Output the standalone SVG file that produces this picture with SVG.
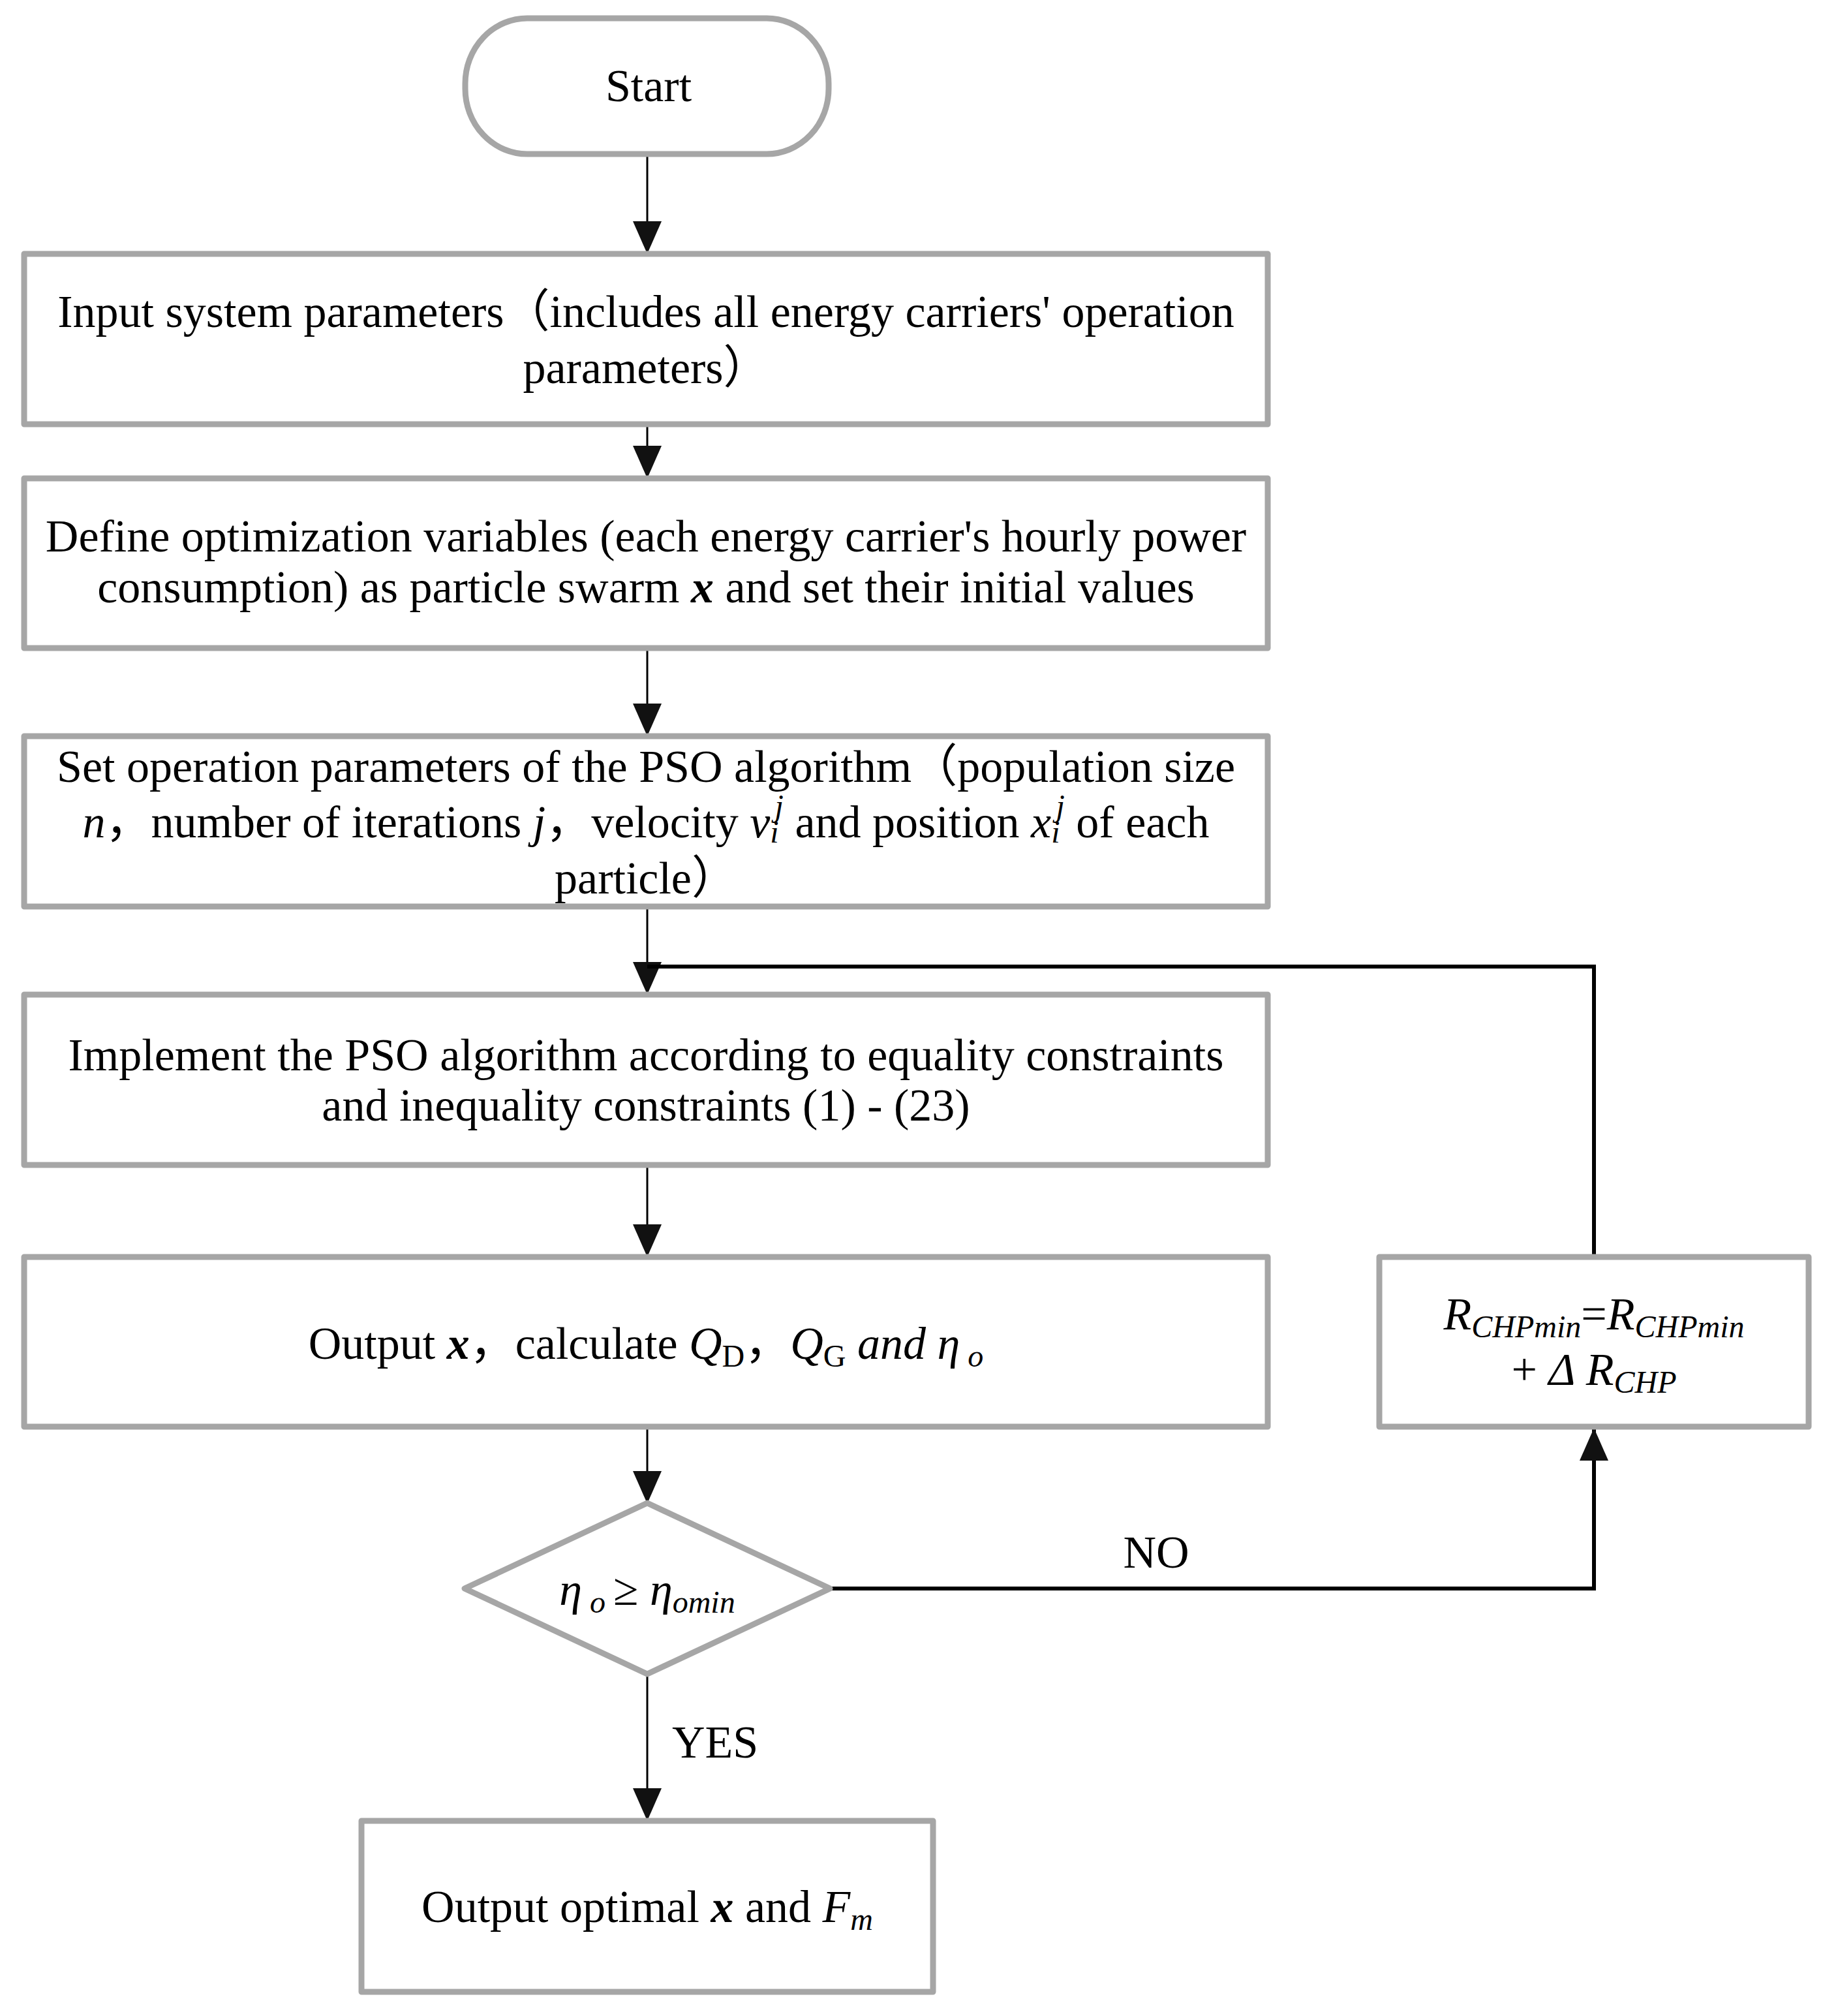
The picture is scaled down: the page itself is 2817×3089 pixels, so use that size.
<svg xmlns="http://www.w3.org/2000/svg" width="2817" height="3089" viewBox="0 0 2817 3089">
<defs>
<style>
.box{fill:#fff;stroke:#a6a6a6;stroke-width:9;stroke-linejoin:round}
.t{font-family:"Liberation Serif","Times New Roman","Noto Sans CJK SC",serif;font-size:70px;fill:#000;text-anchor:middle}
.i{font-style:italic}
.b{font-weight:bold;font-style:italic}
.s{font-size:48px}
.ln{fill:none;stroke:#000;stroke-width:3}
.lt{fill:none;stroke:#000;stroke-width:6}
</style>
<marker id="ahd" markerUnits="userSpaceOnUse" markerWidth="50" markerHeight="44" refX="48" refY="22" orient="auto" viewBox="0 0 50 44">
<path d="M0,0 L50,22 L0,44 Z" fill="#111"/>
</marker>
</defs>
<rect width="2817" height="3089" fill="#fff"/>

<g id="connectors">
<line class="ln" x1="992" y1="236" x2="992" y2="387" marker-end="url(#ahd)"/>
<line class="ln" x1="992" y1="652" x2="992" y2="731" marker-end="url(#ahd)"/>
<line class="ln" x1="992" y1="995" x2="992" y2="1126" marker-end="url(#ahd)"/>
<line class="ln" x1="992" y1="1391" x2="992" y2="1522" marker-end="url(#ahd)"/>
<line class="ln" x1="992" y1="1787" x2="992" y2="1924" marker-end="url(#ahd)"/>
<line class="ln" x1="992" y1="2188" x2="992" y2="2302" marker-end="url(#ahd)"/>
<line class="ln" x1="992" y1="2566" x2="992" y2="2788" marker-end="url(#ahd)"/>
<polyline class="lt" points="1272,2434 2443,2434 2443,2190" marker-end="url(#ahd)"/>
<polyline class="lt" points="2443,1924 2443,1481 992,1481"/>
<text class="t" x="1772" y="2402">NO</text>
<text class="t" x="1096" y="2693">YES</text>
</g>

<g id="start">
<rect class="box" x="713" y="28" width="557" height="208" rx="95" ry="100"/>
<text class="t" x="994" y="155">Start</text>
</g>

<g id="input">
<rect class="box" x="37" y="389" width="1906" height="261"/>
<text class="t" x="990" y="501">Input system parameters（includes all energy carriers' operation</text>
<text class="t" x="990" y="587">parameters）</text>
</g>

<g id="define">
<rect class="box" x="37" y="733" width="1906" height="260"/>
<text class="t" x="990" y="845">Define optimization variables (each energy carrier's hourly power</text>
<text class="t" x="990" y="923">consumption) as particle swarm <tspan class="b">x</tspan> and set their initial values</text>
</g>

<g id="setpso">
<rect class="box" x="37" y="1128" width="1906" height="261"/>
<text class="t" x="990" y="1198">Set operation parameters of the PSO algorithm（population size</text>
<text class="t" x="990" y="1283"><tspan class="i">n</tspan>，number of iterations <tspan class="i">j</tspan>，velocity <tspan class="i">v</tspan><tspan class="i s" dy="8">i</tspan><tspan class="i s" dx="-6" dy="-40">j</tspan><tspan dy="32"> and position </tspan><tspan class="i">x</tspan><tspan class="i s" dy="8">i</tspan><tspan class="i s" dx="-6" dy="-40">j</tspan><tspan dy="32"> of each</tspan></text>
<text class="t" x="990" y="1369">particle）</text>
</g>

<g id="implement">
<rect class="box" x="37" y="1524" width="1906" height="261"/>
<text class="t" x="990" y="1640">Implement the PSO algorithm according to equality constraints</text>
<text class="t" x="990" y="1717">and inequality constraints (1) - (23)</text>
</g>

<g id="output">
<rect class="box" x="37" y="1926" width="1906" height="260"/>
<text class="t" x="990" y="2082">Output <tspan class="b">x</tspan>，calculate <tspan class="i">Q</tspan><tspan class="s" dy="12">D</tspan><tspan dy="-12">，</tspan><tspan class="i">Q</tspan><tspan class="s" dy="12">G</tspan><tspan class="i" dy="-12"> and η</tspan><tspan class="i s" dy="12"> o</tspan></text>
</g>

<g id="update">
<rect class="box" x="2114" y="1926" width="658" height="260"/>
<text class="t" x="2443" y="2037"><tspan class="i">R</tspan><tspan class="i s" dy="12">CHPmin</tspan><tspan dy="-12">=</tspan><tspan class="i">R</tspan><tspan class="i s" dy="12">CHPmin</tspan></text>
<text class="t" x="2443" y="2122">+ <tspan class="i">Δ R</tspan><tspan class="i s" dy="12">CHP</tspan></text>
</g>

<g id="decision">
<polygon class="box" points="992,2303 1272,2434 992,2565 712,2434"/>
<text class="t" x="992" y="2459"><tspan class="i">η</tspan><tspan class="i s" dy="12"> o </tspan><tspan dy="-12">≥ </tspan><tspan class="i">η</tspan><tspan class="i s" dy="12">omin</tspan></text>
</g>

<g id="final">
<rect class="box" x="554" y="2790" width="876" height="262"/>
<text class="t" x="992" y="2945">Output optimal <tspan class="b">x</tspan> and <tspan class="i">F</tspan><tspan class="i s" dy="12">m</tspan></text>
</g>
</svg>
